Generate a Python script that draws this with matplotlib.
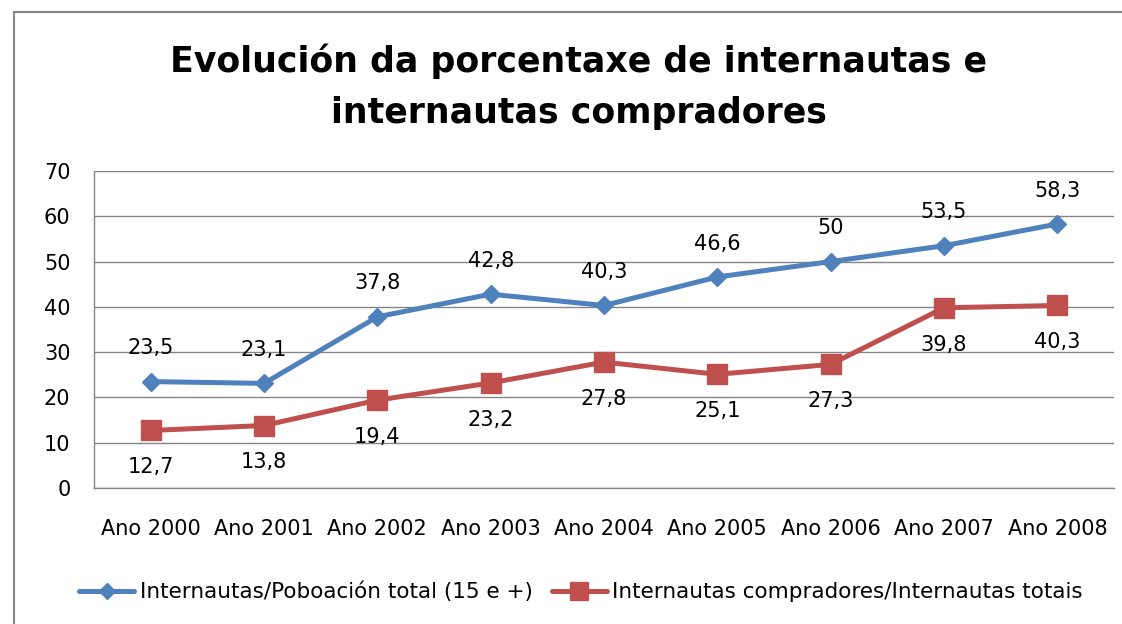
import matplotlib
matplotlib.use("Agg")
import matplotlib.pyplot as plt
from matplotlib.lines import Line2D

plt.rcParams['font.family'] = ['DejaVu Sans']

# datos
anos = ['Ano 2000', 'Ano 2001', 'Ano 2002', 'Ano 2003', 'Ano 2004',
        'Ano 2005', 'Ano 2006', 'Ano 2007', 'Ano 2008']
internautas = [23.5, 23.1, 37.8, 42.8, 40.3, 46.6, 50, 53.5, 58.3]
compradores = [12.7, 13.8, 19.4, 23.2, 27.8, 25.1, 27.3, 39.8, 40.3]
yticks = [0, 10, 20, 30, 40, 50, 60, 70]

nome_azul = 'Internautas/Poboación total (15 e +)'
nome_vermello = 'Internautas compradores/Internautas totais'
titulo = 'Evolución da porcentaxe de internautas e\ninternautas compradores'

azul = '#4F81BD'
vermello = '#C0504D'
gris = '#868686'
fs = 15.0


def etiqueta(v):
    # formato con coma decimal
    s = ('%g' % v)
    return s.replace('.', ',')


fig = plt.figure(figsize=(11.22, 6.24), dpi=100)
ax = fig.add_axes([94 / 1122, 1 - 488 / 624, 1020 / 1122, 317 / 624])

x = list(range(len(anos)))
ax.plot(x, internautas, color=azul, lw=3.6, marker='D', ms=9.5,
        label=nome_azul, solid_capstyle='round', zorder=3)
ax.plot(x, compradores, color=vermello, lw=3.6, marker='s', ms=14,
        label=nome_vermello, solid_capstyle='round', zorder=3)

for xi, v in zip(x, internautas):
    ax.annotate(etiqueta(v), (xi, v), xytext=(0, 24), textcoords='offset points',
                ha='center', va='center', fontsize=fs, color='black')
for xi, v in zip(x, compradores):
    ax.annotate(etiqueta(v), (xi, v), xytext=(0, -26.5), textcoords='offset points',
                ha='center', va='center', fontsize=fs, color='black')

ax.set_xlim(-0.5, len(anos) - 0.5)
ax.set_ylim(0, 70)
ax.set_yticks(yticks)
ax.set_xticks(x)
ax.set_xticklabels(anos)
ax.yaxis.grid(True, color=gris, lw=1.0)
ax.set_axisbelow(True)
ax.tick_params(axis='both', length=0, labelsize=fs, colors='black')
ax.tick_params(axis='y', pad=17)
ax.tick_params(axis='x', pad=22)
for lado in ['top', 'right']:
    ax.spines[lado].set_visible(False)
ax.spines['left'].set_color(gris)
ax.spines['bottom'].set_color(gris)
ax.spines['left'].set_linewidth(1.0)
ax.spines['bottom'].set_linewidth(1.0)

fig.text(579 / 1122, 1 - 87 / 624, titulo, ha='center', va='center',
         fontsize=25, fontweight='bold', linespacing=1.62)

fig.legend(loc='center', bbox_to_anchor=(581 / 1122, 1 - 592 / 624), ncol=2,
           frameon=False, fontsize=15.5, handlelength=2.55, handletextpad=0.25,
           columnspacing=0.9, markerscale=0.9)

# bordo do gráfico (recortado pola dereita e por abaixo)
fig.add_artist(Line2D([13.5 / 1122, 13.5 / 1122], [0, 1 - 11.5 / 624],
                      transform=fig.transFigure, color=gris, lw=1.5))
fig.add_artist(Line2D([13.5 / 1122, 1], [1 - 11.5 / 624, 1 - 11.5 / 624],
                      transform=fig.transFigure, color=gris, lw=1.5))

fig.savefig('out.png', dpi=100)
